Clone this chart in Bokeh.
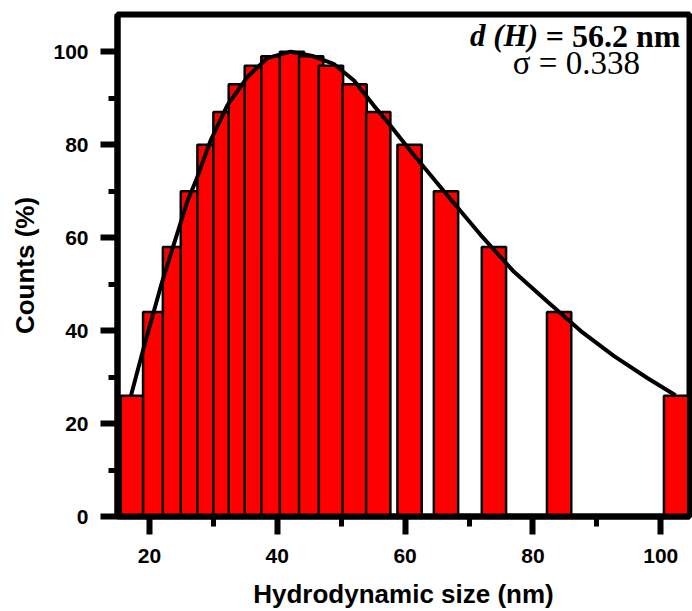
from bokeh.plotting import figure
from bokeh.models import Label, SingleIntervalTicker
from bokeh.embed import file_html
from bokeh.resources import INLINE

# Size distribution (hydrodynamic diameter, nm) and relative counts (%)
sizes = [17.4, 20.9, 24.0, 26.8, 29.4, 31.9, 34.3, 36.8, 39.4, 42.3,
         45.3, 48.4, 52.1, 55.8, 60.7, 66.4, 73.9, 84.1, 102.4]
counts = [26, 44, 58, 70, 80, 87, 93, 97, 99, 100,
          99, 97, 93, 87, 80, 70, 58, 44, 26]

# Fitted distribution curve
fit_x = [17.1, 19.1, 22.0, 24.6, 25.9, 27.2, 29.6, 32.2, 35.3, 38.4, 42.1,
         45.7, 48.9, 52.0, 55.1, 57.7, 59.3, 61.4, 66.6, 71.8, 77.0, 82.2,
         87.5, 92.7, 97.9, 102.3]
fit_y = [26.0, 36.3, 50.6, 62.0, 67.7, 72.0, 81.0, 88.5, 94.5, 98.6, 100.0,
         99.0, 97.3, 93.8, 88.4, 84.1, 81.3, 77.7, 69.1, 60.6, 52.7, 46.3,
         39.9, 34.5, 29.8, 26.1]

x_ticks_step = 20
y_ticks_step = 20

p = figure(width=692, height=611, x_range=(15, 104.5), y_range=(0, 108),
           output_backend="svg", toolbar_location=None,
           min_border_left=117, min_border_right=3,
           min_border_top=14, min_border_bottom=95)

p.background_fill_color = "white"
p.border_fill_color = "white"
p.outline_line_color = "black"
p.outline_line_width = 6
p.xgrid.visible = False
p.ygrid.visible = False

p.vbar(x=sizes, top=counts, bottom=0, width=3.8,
       fill_color="#FF0000", line_color="black", line_width=2.5)
p.line(fit_x, fit_y, line_color="black", line_width=4)

p.xaxis.ticker = SingleIntervalTicker(interval=x_ticks_step, num_minor_ticks=2)
p.yaxis.ticker = SingleIntervalTicker(interval=y_ticks_step, num_minor_ticks=2)

for ax in (p.xaxis[0], p.yaxis[0]):
    ax.axis_line_width = 6
    ax.axis_line_color = "black"
    ax.major_tick_line_width = 6
    ax.minor_tick_line_width = 5
    ax.major_tick_in = 0
    ax.minor_tick_in = 0
    ax.major_label_text_font = "Liberation Sans"
    ax.major_label_text_font_style = "bold"
    ax.major_label_text_font_size = "21px"
    ax.major_label_text_color = "black"
    ax.axis_label_text_font = "Liberation Sans"
    ax.axis_label_text_font_style = "bold"
    ax.axis_label_text_font_size = "26px"
    ax.axis_label_text_color = "black"

p.xaxis.major_tick_out = 18
p.xaxis.minor_tick_out = 10
p.yaxis.major_tick_out = 17
p.yaxis.minor_tick_out = 9
p.xaxis.major_label_standoff = 14
p.yaxis.major_label_standoff = 12
p.xaxis.axis_label = "Hydrodynamic size (nm)"
p.yaxis.axis_label = "Counts (%)"
p.xaxis.axis_label_standoff = 13
p.yaxis.axis_label_standoff = 10

p.add_layout(Label(x=80.8, y=103.4, text="d (H)", text_font="Liberation Serif",
                   text_font_style="bold italic", text_font_size="31px",
                   text_align="right", text_baseline="alphabetic", text_color="black"))
p.add_layout(Label(x=82.0, y=103.4, text="= 56.2 nm", text_font="Liberation Serif",
                   text_font_style="bold", text_font_size="32px",
                   text_align="left", text_baseline="alphabetic", text_color="black"))
p.add_layout(Label(x=86.8, y=97.6, text="\u03c3 = 0.338", text_font="Liberation Serif",
                   text_font_style="normal", text_font_size="33px",
                   text_align="center", text_baseline="alphabetic", text_color="black"))

open("out.html", "w").write(file_html(p, INLINE))
